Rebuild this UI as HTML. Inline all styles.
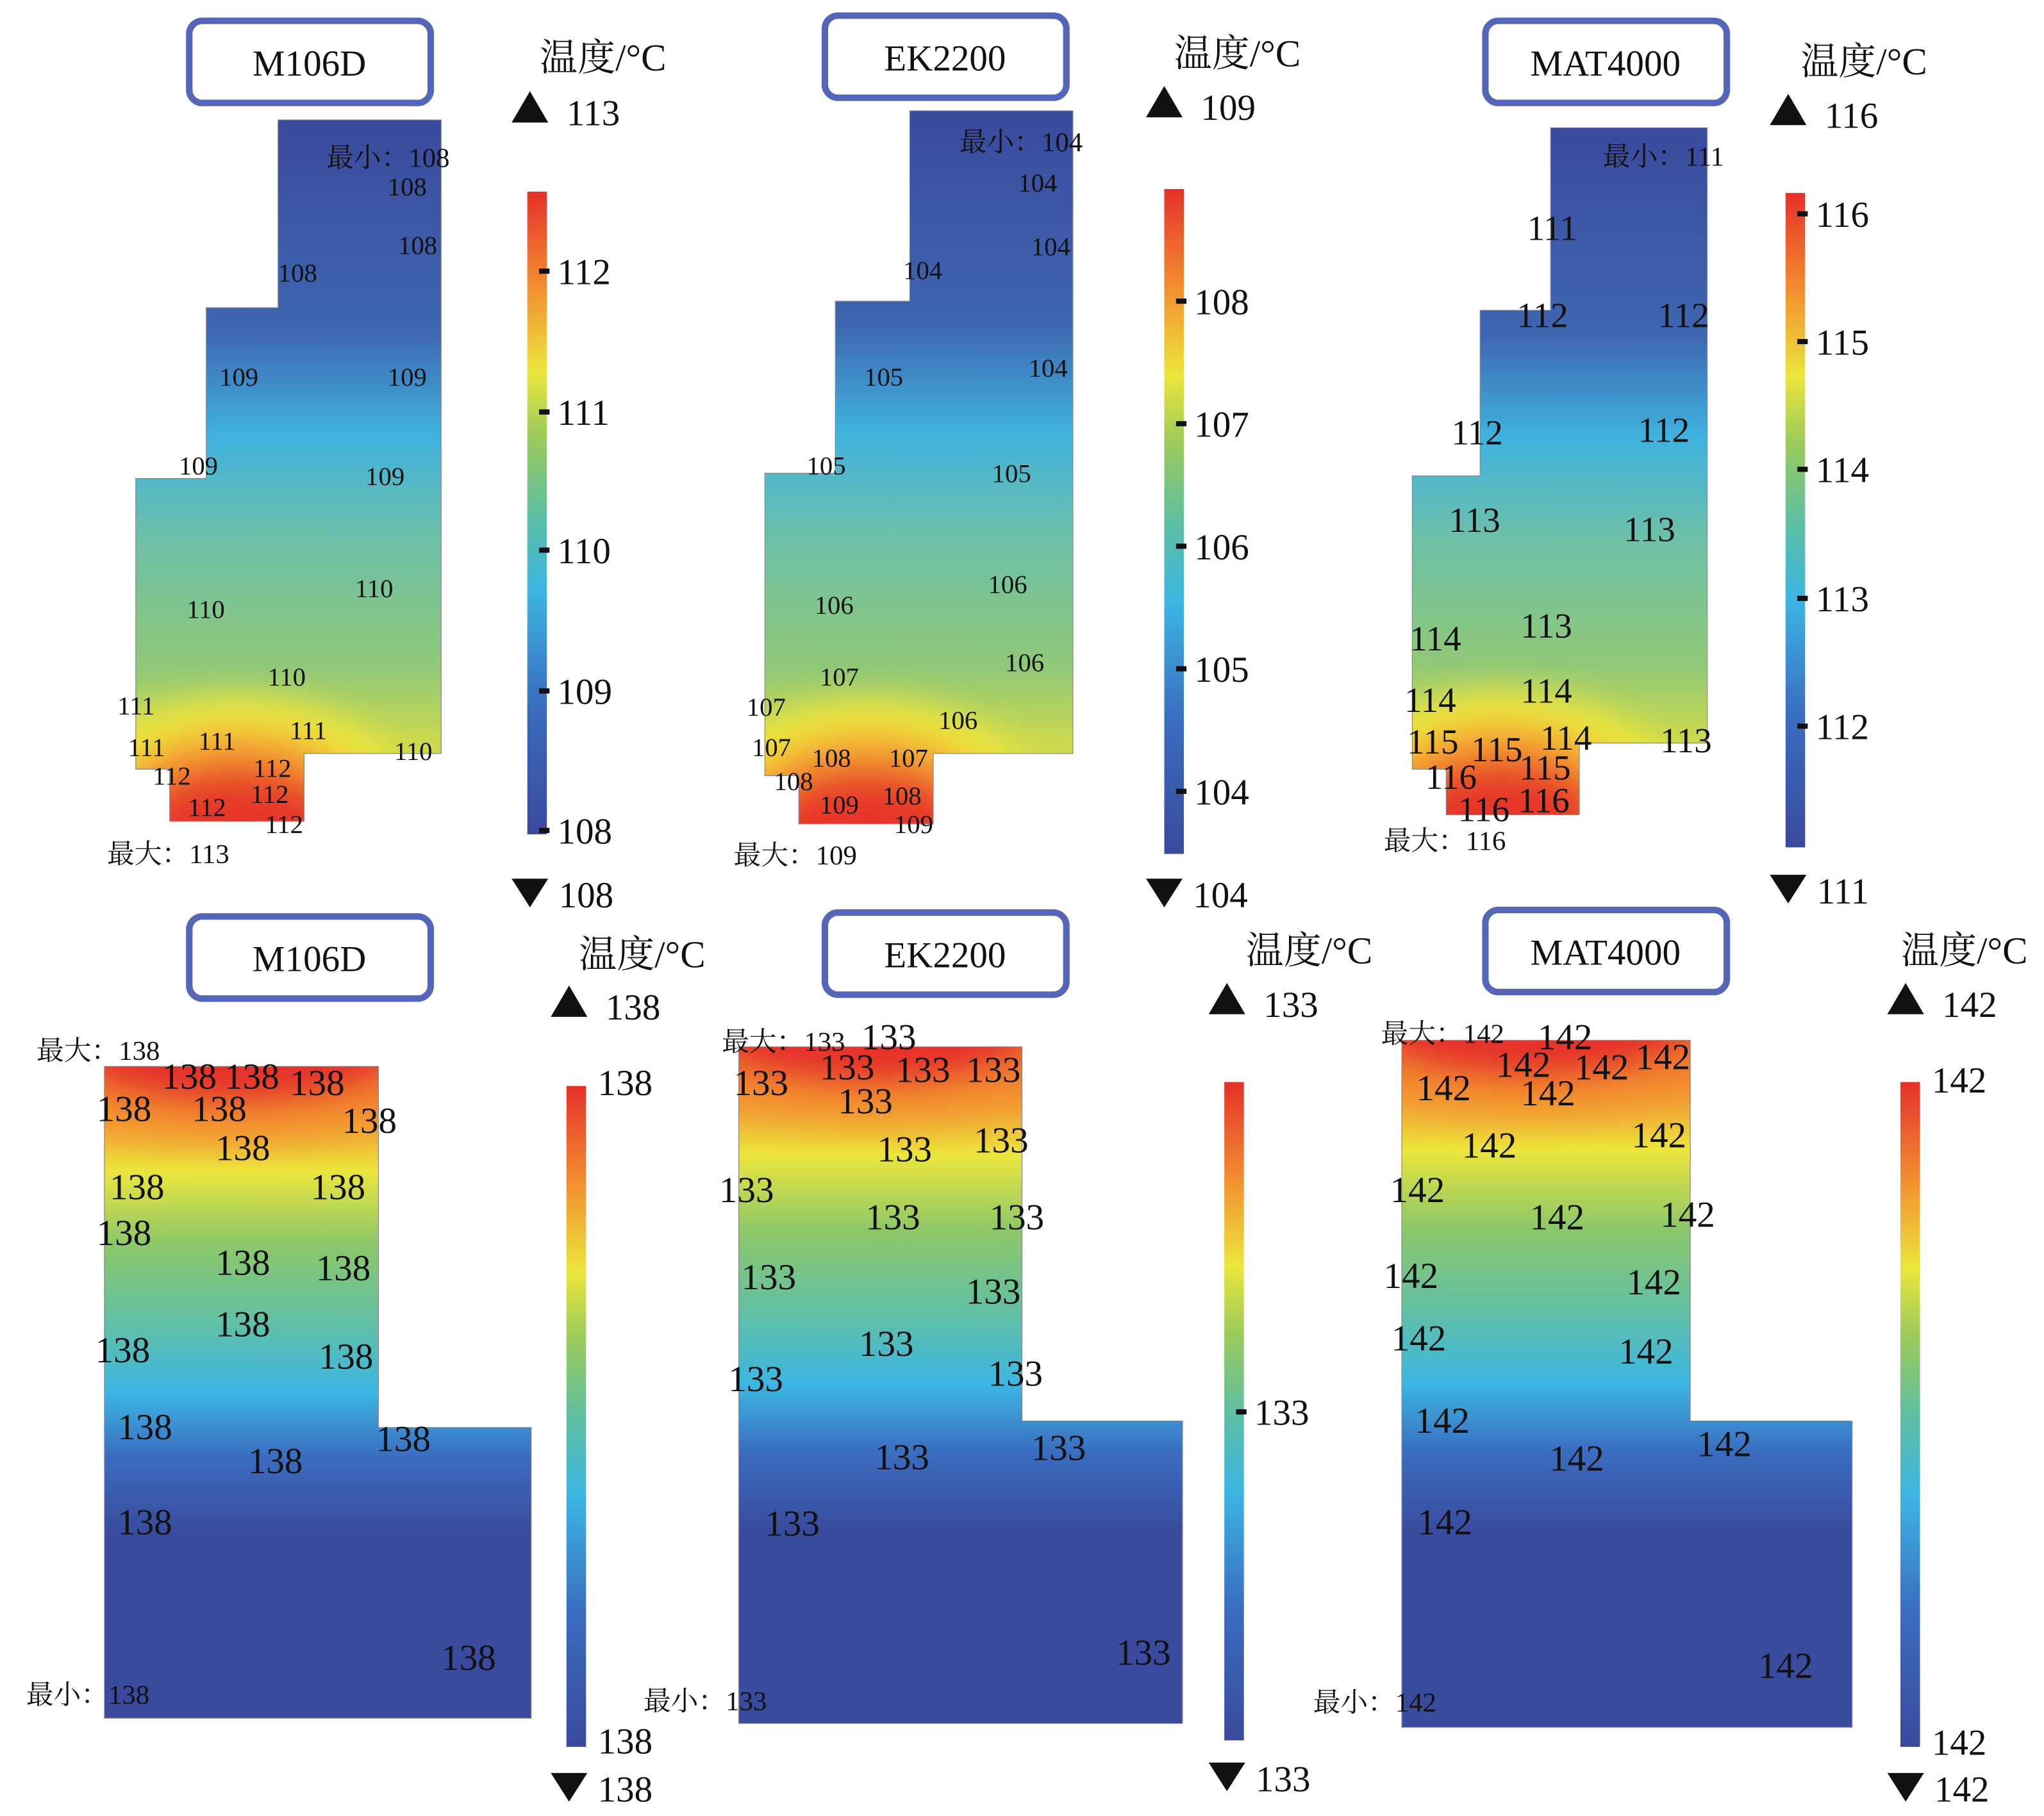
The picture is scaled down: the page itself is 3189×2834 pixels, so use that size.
<!DOCTYPE html>
<html><head><meta charset="utf-8"><style>
html,body{margin:0;padding:0;background:#fff}
svg{display:block}
text{font-family:"Liberation Serif","Noto Serif CJK SC",serif;fill:#111}
</style></head><body>
<svg id="fig" xmlns="http://www.w3.org/2000/svg" width="3189" height="2834" viewBox="0 0 1566 1393" preserveAspectRatio="none">
<defs>
<filter id="blur" x="-50%" y="-50%" width="200%" height="200%"><feGaussianBlur stdDeviation="12"/></filter>
<linearGradient id="cb" x1="0" y1="1" x2="0" y2="0">
<stop offset="0" stop-color="#3a4a9c"/><stop offset="0.2" stop-color="#3a6cc0"/><stop offset="0.38" stop-color="#3cb6e3"/><stop offset="0.5" stop-color="#5fbfa0"/><stop offset="0.62" stop-color="#9ccb5a"/><stop offset="0.72" stop-color="#ece63c"/><stop offset="0.85" stop-color="#f39030"/><stop offset="1" stop-color="#e6302a"/>
</linearGradient>
<linearGradient id="gt" x1="0" y1="0" x2="0" y2="1">
<stop offset="0" stop-color="#3a4a9c"/><stop offset="0.3" stop-color="#3f66b0"/><stop offset="0.45" stop-color="#3fb2df"/><stop offset="0.6" stop-color="#6ec0a8"/><stop offset="0.78" stop-color="#90c878"/><stop offset="0.88" stop-color="#c8d850"/><stop offset="1" stop-color="#e8e040"/>
</linearGradient>
<linearGradient id="gb" x1="0" y1="0" x2="0" y2="1">
<stop offset="0" stop-color="#e6302a"/><stop offset="0.07" stop-color="#f39030"/><stop offset="0.16" stop-color="#ece63c"/><stop offset="0.27" stop-color="#8ec868"/><stop offset="0.4" stop-color="#5fbfa8"/><stop offset="0.5" stop-color="#3cb6e3"/><stop offset="0.6" stop-color="#3a6cc0"/><stop offset="0.72" stop-color="#3a4a9c"/><stop offset="1" stop-color="#3a4a9c"/>
</linearGradient>
</defs>
<g id="panels"></g>
</svg>
<script>
const NS="http://www.w3.org/2000/svg";
const names=["M106D","EK2200","MAT4000","M106D","EK2200","MAT4000"];
const cbMin=[108,104,111,138,133,142];
const cbMax=[113,109,116,138,133,142];
const cbTicks=[[108,109,110,111,112],[104,105,106,107,108],[112,113,114,115,116],[],[133],[]];
const cbTickPos=[[637,530,422,316,208],[607,513,419,325,231],[557,459,360,262,164],[],[1083],[]];
const maxTxt=["最大：113","最大：109","最大：116","最大：138","最大：133","最大：142"];
const minTxt=["最小：108","最小：104","最小：111","最小：138","最小：133","最小：142"];
const L=[
 {box:[145,16],shape:"213,92 338,92 338,578 233,578 233,630 130,630 130,590 104,590 104,367 158,367 158,236 213,236",cb:[404,147,640],tri:[406,84,684],title:[462,45],hot:[182,630],fill:"gt",
  mx:[82,662],mn:[250,128],labels:[[297,150,"108"],[305,195,"108"],[213,216,"108"],[168,296,"109"],[297,296,"109"],[137,364,"109"],[280,372,"109"],[143,474,"110"],[272,458,"110"],[205,526,"110"],[90,548,"111"],[98,580,"111"],[152,575,"111"],[222,567,"111"],[302,583,"110"],[117,602,"112"],[194,596,"112"],[192,616,"112"],[144,626,"112"],[203,639,"112"]]},
 {box:[632,12],shape:"697,85 822,85 822,578 715,578 715,632 612,632 612,595 586,595 586,363 640,363 640,231 697,231",cb:[892,145,655],tri:[892,80,684],title:[948,42],hot:[664,632],fill:"gt",
  mx:[562,663],mn:[735,116],labels:[[780,147,"104"],[790,196,"104"],[692,214,"104"],[788,289,"104"],[662,296,"105"],[618,364,"105"],[760,370,"105"],[624,471,"106"],[757,455,"106"],[770,515,"106"],[628,526,"107"],[572,549,"107"],[719,559,"106"],[576,580,"107"],[622,588,"108"],[681,588,"107"],[593,606,"108"],[628,624,"109"],[676,617,"108"],[685,639,"109"]]},
 {box:[1138,16],shape:"1188,98 1308,98 1308,570 1210,570 1210,625 1108,625 1108,590 1082,590 1082,365 1134,365 1134,238 1188,238",cb:[1368,148,650],tri:[1370,86,681],title:[1428,48],hot:[1150,625],fill:"gt",
  mx:[1060,652],mn:[1228,127],big:1,labels:[[1170,184,"111"],[1162,251,"112"],[1270,251,"112"],[1112,341,"112"],[1255,339,"112"],[1110,408,"113"],[1244,415,"113"],[1080,499,"114"],[1165,489,"113"],[1076,546,"114"],[1165,539,"114"],[1078,578,"115"],[1127,584,"115"],[1180,575,"114"],[1272,577,"113"],[1092,605,"116"],[1164,598,"115"],[1117,630,"116"],[1163,623,"116"]]},
 {box:[145,703],shape:"80,818 290,818 290,1095 407,1095 407,1318 80,1318",cb:[434,833,1340],tri:[436,770,1370],title:[492,733],fill:"gb",
  mx:[28,813],mn:[20,1307],cbl:[[458,840,"138"],[458,1345,"138"]],big:1,labels:[[124,835,"138"],[172,835,"138"],[222,840,"138"],[74,860,"138"],[147,860,"138"],[262,869,"138"],[165,890,"138"],[84,920,"138"],[238,920,"138"],[74,955,"138"],[165,978,"138"],[242,982,"138"],[165,1025,"138"],[73,1045,"138"],[244,1050,"138"],[90,1104,"138"],[288,1113,"138"],[190,1130,"138"],[90,1177,"138"],[338,1281,"138"]]},
 {box:[632,700],shape:"566,803 783,803 783,1090 906,1090 906,1322 566,1322",cb:[938,830,1335],tri:[940,768,1362],title:[1003,730],fill:"gb",
  mx:[553,806],mn:[493,1312],big:1,labels:[[660,805,"133"],[628,828,"133"],[686,830,"133"],[740,830,"133"],[562,840,"133"],[642,854,"133"],[672,891,"133"],[746,884,"133"],[551,922,"133"],[663,943,"133"],[758,943,"133"],[568,989,"133"],[740,1000,"133"],[658,1040,"133"],[558,1067,"133"],[757,1063,"133"],[670,1127,"133"],[790,1120,"133"],[586,1178,"133"],[855,1277,"133"]]},
 {box:[1138,698],shape:"1074,798 1295,798 1295,1090 1419,1090 1419,1325 1074,1325",cb:[1456,830,1340],tri:[1460,768,1370],title:[1505,730],fill:"gb",
  mx:[1058,800],mn:[1006,1313],cbl:[[1480,838,"142"],[1480,1346,"142"]],big:1,labels:[[1178,805,"142"],[1146,826,"142"],[1206,828,"142"],[1253,820,"142"],[1085,844,"142"],[1165,848,"142"],[1120,888,"142"],[1250,880,"142"],[1065,922,"142"],[1172,943,"142"],[1272,941,"142"],[1060,988,"142"],[1246,993,"142"],[1066,1036,"142"],[1240,1046,"142"],[1084,1099,"142"],[1300,1117,"142"],[1187,1128,"142"],[1086,1177,"142"],[1347,1287,"142"]]}
];
const root=document.getElementById('panels');
function mk(tag,attrs,parent){const e=document.createElementNS(NS,tag);for(const k in attrs)e.setAttribute(k,attrs[k]);(parent||root).appendChild(e);return e;}
L.forEach((p,i)=>{
 const g=mk('g',{});
 
 
 const b=mk('rect',{x:p.box[0],y:p.box[1],width:185,height:63,rx:10,fill:'#fff',stroke:'#5565b8','stroke-width':5},g);
 
 
 const bt=mk('text',{x:p.box[0]+92,y:p.box[1]+42,'font-size':28,'text-anchor':'middle'},g);bt.textContent=names[i];
 
 
 const cid='clip'+i;const cp=mk('clipPath',{id:cid},g);mk('polygon',{points:p.shape},cp);
 const sh=mk('g',{'clip-path':'url(#'+cid+')'},g);
 
 
 const pts=p.shape.split(' ').map(s=>s.split(',').map(Number));
 const xs=pts.map(a=>a[0]),ys=pts.map(a=>a[1]);
 const x0=Math.min(...xs),x1=Math.max(...xs),y0=Math.min(...ys),y1=Math.max(...ys);
 mk('rect',{x:x0,y:y0,width:x1-x0,height:y1-y0,fill:'url(#'+p.fill+')'},sh);
 if(p.hot){
  const hg=mk('g',{filter:'url(#blur)'},sh);
  mk('ellipse',{cx:p.hot[0],cy:p.hot[1],rx:140,ry:95,fill:'#ece63c'},hg);
  mk('ellipse',{cx:p.hot[0],cy:p.hot[1],rx:105,ry:70,fill:'#f5a030'},hg);
  mk('ellipse',{cx:p.hot[0],cy:p.hot[1],rx:80,ry:45,fill:'#e84a2a'},hg);
  mk('ellipse',{cx:p.hot[0],cy:p.hot[1]+5,rx:60,ry:25,fill:'#e6302a'},hg);
 } else {
  const hg=mk('g',{filter:'url(#blur)'},sh);
  mk('ellipse',{cx:x0+100,cy:y0-10,rx:170,ry:70,fill:'#f39030',opacity:0.7},hg);
  mk('ellipse',{cx:x0+100,cy:y0-15,rx:130,ry:45,fill:'#e6302a'},hg);
 }
 mk('polygon',{points:p.shape,fill:'none',stroke:'#888','stroke-width':0.6},g);
 const cb=mk('rect',{x:p.cb[0],y:p.cb[1],width:15,height:p.cb[2]-p.cb[1],fill:'url(#cb)'},g);
 
 
 cbTicks[i].forEach((v,j)=>{
  const y=cbTickPos[i][j];
  mk('rect',{x:p.cb[0]+9,y:y-2,width:8,height:4,fill:'#111'},g);
  const t=mk('text',{x:p.cb[0]+23,y:y+10,'font-size':28},g);t.textContent=v;
  
  
 });
 (p.cbl||[]).forEach(c=>{const t=mk('text',{x:c[0],y:c[1],'font-size':28},g);t.textContent=c[2];
  
  });
 const tx=p.tri[0];
 const tu=mk('polygon',{points:`${tx-14},${p.tri[1]+10} ${tx+14},${p.tri[1]+10} ${tx},${p.tri[1]-14}`,fill:'#111'},g);
 
 
 const td=mk('polygon',{points:`${tx-14},${p.tri[2]-10} ${tx+14},${p.tri[2]-10} ${tx},${p.tri[2]+12}`,fill:'#111'},g);
 
 
 const mxl=mk('text',{x:tx+28,y:p.tri[1]+12,'font-size':28},g);mxl.textContent=cbMax[i];
 
 
 const mnl=mk('text',{x:tx+22,y:p.tri[2]+12,'font-size':28},g);mnl.textContent=cbMin[i];
 
 
 const ti=mk('text',{x:p.title[0],y:p.title[1]+9,'font-size':29,'text-anchor':'middle'},g);ti.textContent='温度/°C';
 
 
 const fs=p.big&&i>=3?28:(p.big?27:20);
 p.labels.forEach(l=>{const t=mk('text',{x:l[0],y:l[1],'font-size':fs},g);t.textContent=l[2];
  
  });
 const a=mk('text',{x:p.mx[0],y:p.mx[1],'font-size':21},g);a.textContent=maxTxt[i];
 
 
 const c=mk('text',{x:p.mn[0],y:p.mn[1],'font-size':21},g);c.textContent=minTxt[i];
 
 
});
</script>
</body></html>
